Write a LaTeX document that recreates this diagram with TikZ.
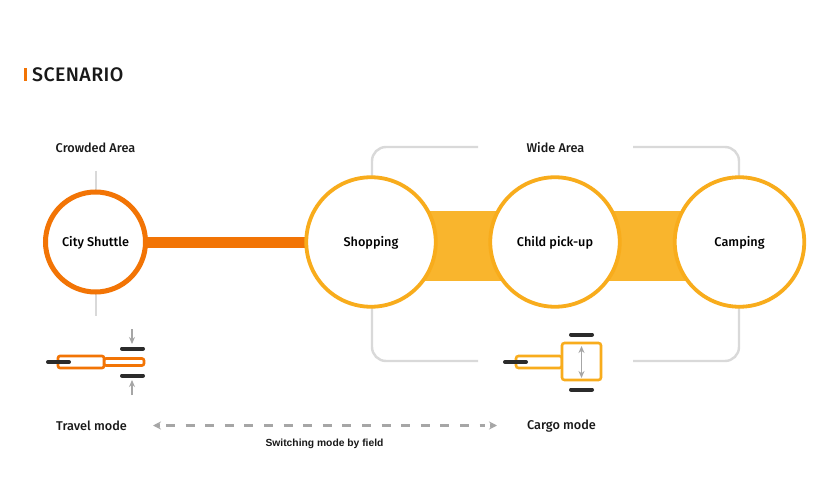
\documentclass[tikz,border=0pt]{standalone}
\usepackage{fontspec}
\setmainfont{Fira Sans Medium}
\newfontfamily\switchfont{Liberation Sans Bold}
\usetikzlibrary{arrows.meta}
\definecolor{orangeC}{HTML}{F27405}
\definecolor{yellowC}{HTML}{F9B52D}
\definecolor{ringC}{HTML}{F8AC1C}
\definecolor{lineC}{HTML}{D9D9D9}
\definecolor{arrowC}{HTML}{A6A6A6}
\definecolor{wheelC}{HTML}{2B2B2B}
\newcommand{\circtext}[1]{\raisebox{-4pt}[0pt][0pt]{#1}}
\begin{document}
\begin{tikzpicture}[x=1pt,y=-1pt,
  circO/.style={circle,draw=orangeC,line width=5pt,fill=white,minimum size=100pt,inner sep=0pt,font=\fontsize{12.7}{15}\selectfont},
  circY/.style={circle,draw=ringC,line width=3.8pt,fill=white,minimum size=129.5pt,inner sep=0pt,font=\fontsize{12.7}{15}\selectfont},
  lab/.style={font=\fontsize{12.7}{15}\selectfont,text=black!90,inner sep=0pt},
  guide/.style={draw=lineC,line width=2.4pt,rounded corners=14pt},
  wheel/.style={draw=wheelC,line width=4pt,line cap=round},
  bodyO/.style={draw=orangeC,line width=2.6pt,fill=white,rounded corners=2pt},
  bodyY/.style={draw=ringC,line width=2.6pt,fill=white,rounded corners=2.5pt},
  garrow/.style={draw=arrowC,line width=1.4pt,-{Stealth[length=7pt,width=6pt]}}]
\useasboundingbox (0,0) rectangle (820,500);
\fill[white] (0,0) rectangle (820,500);
% heading
\fill[orangeC] (24,68) rectangle (26.5,81);
\node[anchor=west,inner sep=0pt,font=\fontsize{19.6}{22}\selectfont\addfontfeatures{LetterSpace=2},text=black!90] (title) at (32,74.5) {SCENARIO};
% coordinates
\coordinate (cs) at (95.5,242);
\coordinate (sh) at (371,242);
\coordinate (ch) at (555,242);
\coordinate (ca) at (739.5,242);
\coordinate (ctop) at (96,171);
\coordinate (cbot) at (96,316);
\coordinate (wtl) at (478,147);
\coordinate (wtr) at (633,147);
\coordinate (wbl) at (478,361);
\coordinate (wbr) at (633,361);
% guides
\draw[lineC,line width=2.4pt] (ctop) -- (cbot);
\draw[guide] (372,242) -- (372,147) -- (wtl);
\draw[guide] (739,242) -- (739,147) -- (wtr);
\draw[guide] (372,242) -- (372,361) -- (wbl);
\draw[guide] (739,242) -- (739,361) -- (wbr);
% bands
\fill[orangeC] (130,237) rectangle (320,248);
\fill[yellowC] (400,211) rectangle (710,281);
% circles
\node[circO] (city) at (cs) {\circtext{City Shuttle}};
\node[circY] (shop) at (sh) {\circtext{Shopping}};
\node[circY] (child) at (ch) {\circtext{Child pick-up}};
\node[circY] (camp) at (ca) {\circtext{Camping}};
% labels
\node[lab] (crowded) at (95.5,147.5) {Crowded Area};
\node[lab] (wide) at (555.5,147.5) {Wide Area};
\node[lab] (travel) at (91.5,426) {Travel mode};
\node[lab] (cargo) at (561.5,426) {Cargo mode};
\node[font=\fontsize{10.3}{12}\selectfont\switchfont,inner sep=0pt,text=black!90] (switch) at (324.5,443.5) {Switching mode by field};
% travel mode vehicle
\draw[bodyO] (104,358.5) rectangle (144,365.5);
\draw[bodyO] (58,356) rectangle (104,368);
\draw[wheel] (48,362) -- (69,362);
\draw[wheel] (122,348.5) -- (143,348.5);
\draw[wheel] (122,375.5) -- (143,375.5);
\draw[garrow] (132,329) -- (132,344);
\draw[garrow] (132,395) -- (132,380);
% cargo mode vehicle
\draw[bodyY] (516,356) rectangle (562,368);
\draw[bodyY] (562,343) rectangle (601,380);
\draw[wheel] (505,362) -- (526,362);
\draw[wheel] (571,334.5) -- (592,334.5);
\draw[wheel] (571,389.5) -- (592,389.5);
\draw[draw=arrowC,line width=1.4pt,{Stealth[length=7pt,width=6pt]}-{Stealth[length=7pt,width=6pt]}] (581.5,346) -- (581.5,378);
% switching arrow
\coordinate (swL) at (153,425.5);
\coordinate (swR) at (497,425.5);
\draw[arrowC,line width=2.2pt,dash pattern=on 9pt off 10.6pt] (166,425.5) -- (485,425.5);
\draw[arrowC,line width=2.2pt,-{Stealth[length=8pt,width=8pt]}] (160,425.5) -- (swL);
\draw[arrowC,line width=2.2pt,-{Stealth[length=8pt,width=8pt]}] (490,425.5) -- (swR);
\end{tikzpicture}
\end{document}
